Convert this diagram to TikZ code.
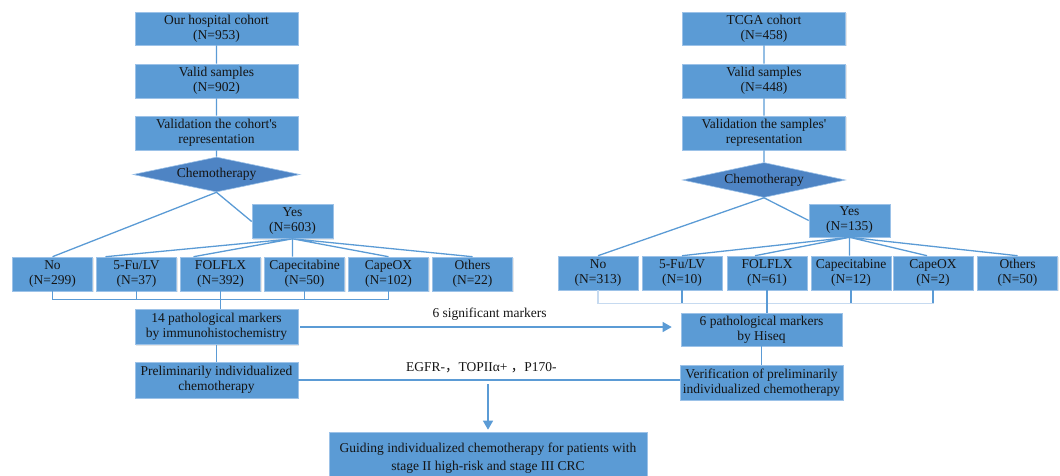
\documentclass[tikz,border=0pt]{standalone}
\usepackage{fontspec}
\setmainfont{Liberation Serif}
\newfontfamily\cjk{Noto Sans CJK SC}
\usetikzlibrary{arrows.meta,calc,shapes.geometric,shadows}
\definecolor{boxblue}{HTML}{5B9BD5}
\definecolor{boxrim}{HTML}{9CC2E8}
\definecolor{diablue}{HTML}{4E84C4}
\definecolor{linkblue}{HTML}{5B9BD5}
\definecolor{faintblue}{HTML}{C6DAF0}
\definecolor{ink}{HTML}{141414}
\tikzset{>=Stealth,every node/.style={font=\fontsize{13.5}{15}\selectfont,text=ink},
 box/.style={draw=boxrim,line width=.6pt,fill=boxblue,align=center,inner sep=0pt,minimum height=34pt,
  drop shadow={shadow xshift=1.2pt,shadow yshift=-1.2pt,opacity=.2}},
 colbox/.style={box,minimum width=163pt},armbox/.style={box,minimum width=80pt},
 dec/.style={diamond,draw=boxrim,line width=.6pt,fill=diablue,aspect=5,inner sep=0pt,minimum width=167pt,minimum height=35pt},
 link/.style={draw=linkblue,line width=1.3pt},flow/.style={link,-{Triangle[length=9pt,width=10pt]}}}

\begin{document}
\begin{tikzpicture}[x=1pt,y=-1pt]
\useasboundingbox (0,0) rectangle (1060,475);
\node[colbox,minimum height=33pt] (lc1) at (216.5,28.5) {Our hospital cohort\\(N=953)};
\node[colbox] (lc2) at (216.5,81) {Valid samples\\(N=902)};
\node[colbox] (lc3) at (216.5,133) {Validation the cohort\textquotesingle s\\representation};
\node[dec] (ldia) at (216.5,174.5) {Chemotherapy};
\node[box,minimum width=81pt] (lyes) at (292.5,221.5) {Yes\\(N=603)};
\node[armbox] (lno) at (52.5,274) {No\\(N=299)};\node[armbox] (lfu) at (136.5,274) {5-Fu/LV\\(N=37)};
\node[armbox] (lfol) at (220.5,274) {FOLFLX\\(N=392)};\node[armbox] (lcap) at (304.5,274) {Capecitabine\\(N=50)};
\node[armbox] (lcox) at (388.5,274) {CapeOX\\(N=102)};\node[armbox] (loth) at (472.5,274) {Others\\(N=22)};
\node[colbox,minimum height=35pt] (lmk) at (216.5,327) {14 pathological markers\\by immunohistochemistry};
\node[colbox,minimum height=36pt] (lpre) at (216.5,380) {Preliminarily individualized\\chemotherapy};

\node[colbox,minimum height=33pt] (rc1) at (764,28.5) {TCGA cohort\\(N=458)};
\node[colbox] (rc2) at (764,81) {Valid samples\\(N=448)};
\node[colbox] (rc3) at (764,133) {Validation the samples\textquotesingle\\representation};
\node[dec,minimum width=163pt] (rdia) at (764,180) {Chemotherapy};
\node[box,minimum width=81pt,minimum height=33pt] (ryes) at (849.5,220.5) {Yes\\(N=135)};
\node[armbox] (rno) at (598,273) {No\\(N=313)};\node[armbox] (rfu) at (682,273) {5-Fu/LV\\(N=10)};
\node[armbox] (rfol) at (767,273) {FOLFLX\\(N=61)};\node[armbox] (rcap) at (851,273) {Capecitabine\\(N=12)};
\node[armbox] (rcox) at (933,273) {CapeOX\\(N=2)};\node[armbox] (roth) at (1017.5,273) {Others\\(N=50)};
\node[colbox,minimum width=161pt,minimum height=33pt] (rmk) at (761.5,329.5) {6 pathological markers\\by Hiseq};
\node[colbox,minimum height=35pt] (rver) at (761.5,382.5) {Verification of preliminarily\\individualized chemotherapy};

\node[box,minimum width=318pt,minimum height=52pt] (fin) at (488,458) {Guiding individualized chemotherapy for patients with\\[3pt]stage II high-risk and stage III CRC};

\draw[link] (lc1)--(lc2) (lc2)--(lc3) (lc3)--(ldia) (ldia.south)--(lno.north) (ldia.south)--(lyes.west);
\draw[link] (lyes.south)--(lyes.south|-lcap.north) (lyes.south)--([xshift=-31pt]lfu.north) (lyes.south)--([xshift=-27pt]lfol.north) (lyes.south)--(lcox.north) (lyes.south)--(loth.north);
\draw[link] (lno.south)--++(0,8)-|(lcox.south) (lfu.south)--++(0,8) (lcap.south)--++(0,8) (lfol.south)--(lfol.south|-lmk.north);
\draw[link] (lmk)--(lpre);

\draw[link] (rc1)--(rc2) (rc2)--(rc3) (rc3)--(rdia) (rdia.south)--(rno.north) (rdia.south)--(ryes.west);
\draw[link] (ryes.south)--(ryes.south|-rcap.north) (ryes.south)--(rfu.north) (ryes.south)--([xshift=-12pt]rfol.north) (ryes.south)--([xshift=-6pt]rcox.north) (ryes.south)--(roth.north);
\draw[link,draw=faintblue] (rno.south)--++(0,13)-|(rcox.south);
\draw[link] (rfu.south)--++(0,13) (rcap.south)--++(0,13) (rcox.south)--++(0,13) (rfol.south)--(rfol.south|-rmk.north);
\draw[link] (rmk)--(rver);

\draw[flow,shorten <=2pt,shorten >=9pt] (lmk.east)--(lmk.east-|rmk.west) node[midway,above=3pt]{6 significant markers};
\draw[link] (lpre.east)--(lpre.east-|rver.west) node[pos=.48,above=3pt]{EGFR-{\cjk ，}TOPIIα+ {\cjk ，}P170-};
\coordinate (jn) at (lpre.east-|fin.north);
\draw[flow,shorten <=4pt,shorten >=2pt] (jn)--(fin.north);
\end{tikzpicture}
\end{document}
